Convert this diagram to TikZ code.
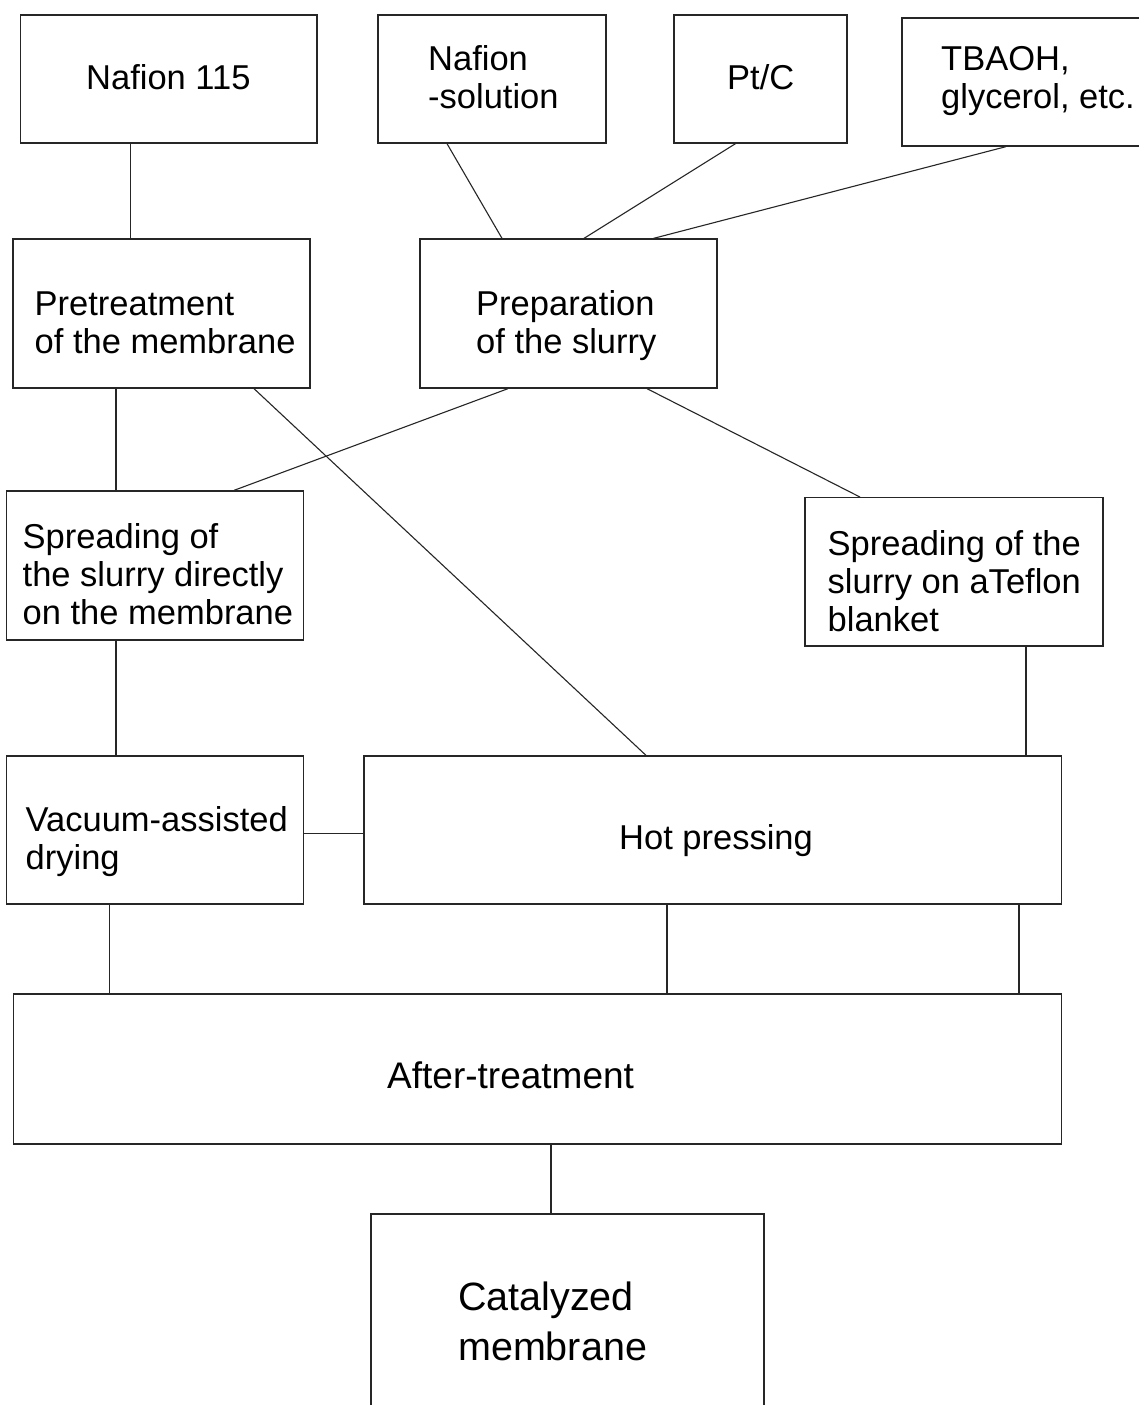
\documentclass[tikz,border=0pt]{standalone}
\usepackage{fontspec}
\setmainfont{Liberation Sans}
\usetikzlibrary{calc}
\tikzset{
  box/.style={draw=black!85, line width=1.3pt, inner sep=0pt, fill=none},
  txt/.style={inner sep=0pt, align=left, font=\fontsize{34.5}{38}\selectfont, anchor=base west},
  conn/.style={draw=black!85, line width=1.1pt},
}
\begin{document}
\begin{tikzpicture}[x=1pt,y=-1pt]
\clip (0,0) rectangle (1139,1405);
\fill[white] (0,0) rectangle (1139,1405);
% boxes
\node[box, minimum width=296.3pt, minimum height=128pt] (naf115) at (168.85,79) {};
\node[box, minimum width=228pt, minimum height=128pt] (nafsol) at (492,79) {};
\node[box, minimum width=173pt, minimum height=128pt] (ptc) at (760.5,79) {};
\node[box, minimum width=258pt, minimum height=128pt] (tbaoh) at (1031,82) {};
\node[box, minimum width=297pt, minimum height=149pt] (pret) at (161.5,313.5) {};
\node[box, minimum width=297pt, minimum height=149pt] (prep) at (568.5,313.5) {};
\node[box, minimum width=297pt, minimum height=149pt] (sdir) at (155,565.5) {};
\node[box, minimum width=298pt, minimum height=148.3pt] (steflon) at (954,571.85) {};
\node[box, minimum width=297pt, minimum height=148pt] (vac) at (155,830) {};
\node[box, minimum width=697.6pt, minimum height=148pt] (hot) at (712.8,830) {};
\node[box, minimum width=1048.1pt, minimum height=150pt] (after) at (537.55,1069) {};
\node[box, minimum width=393pt, minimum height=206pt] (cat) at (567.5,1317) {};
% texts (anchor = baseline of the last line)
\node[txt] (naf115t) at (86,89) {Nafion 115};
\node[txt] (nafsolt) at (428,108) {Nafion\\-solution};
\node[txt] (ptct) at (727,89) {Pt/C};
\node[txt] (tbaoht) at (941,108) {TBAOH,\\glycerol, etc.};
\node[txt] (prett) at (34.5,353) {Pretreatment\\of the membrane};
\node[txt] (prept) at (476,353) {Preparation\\of the slurry};
\node[txt] (sdirt) at (22.5,624) {Spreading of\\the slurry directly\\on the membrane};
\node[txt] (steflont) at (827.5,631) {Spreading of the\\slurry on aTeflon\\blanket};
\node[txt] (vact) at (25.5,869) {Vacuum-assisted\\drying};
\node[txt] (hott) at (619,849) {Hot pressing};
\node[txt, font=\fontsize{37}{40}\selectfont] (aftert) at (387,1088) {After-treatment};
\node[txt, font=\fontsize{39.5}{50}\selectfont] (catt) at (458,1360) {Catalyzed\\membrane};
% connectors
\draw[conn] (naf115.south -| 130.5,0) -- (pret.north -| 130.5,0);
\draw[conn] (nafsol.south -| 447,0) -- (prep.north -| 502,0);
\draw[conn] (ptc.south -| 735.5,0) -- (prep.north -| 584,0);
\draw[conn] (tbaoh.south -| 1006,0) -- (prep.north -| 653.6,0);
\draw[conn] (pret.south -| 116,0) -- (sdir.north -| 116,0);
\draw[conn] (pret.south -| 254,0) -- (hot.north -| 646,0);
\draw[conn] (prep.south -| 508,0) -- (sdir.north -| 234,0);
\draw[conn] (prep.south -| 647,0) -- (steflon.north -| 860,0);
\draw[conn] (sdir.south -| 116,0) -- (vac.north -| 116,0);
\draw[conn] (steflon.south -| 1026,0) -- (hot.north -| 1026,0);
\draw[conn] (vac.east |- 0,833.3) -- (hot.west |- 0,833.3);
\draw[conn] (vac.south -| 109.5,0) -- (after.north -| 109.5,0);
\draw[conn] (hot.south -| 667,0) -- (after.north -| 667,0);
\draw[conn] (hot.south -| 1019,0) -- (after.north -| 1019,0);
\draw[conn] (after.south -| 551,0) -- (cat.north -| 551,0);
\end{tikzpicture}
\end{document}
